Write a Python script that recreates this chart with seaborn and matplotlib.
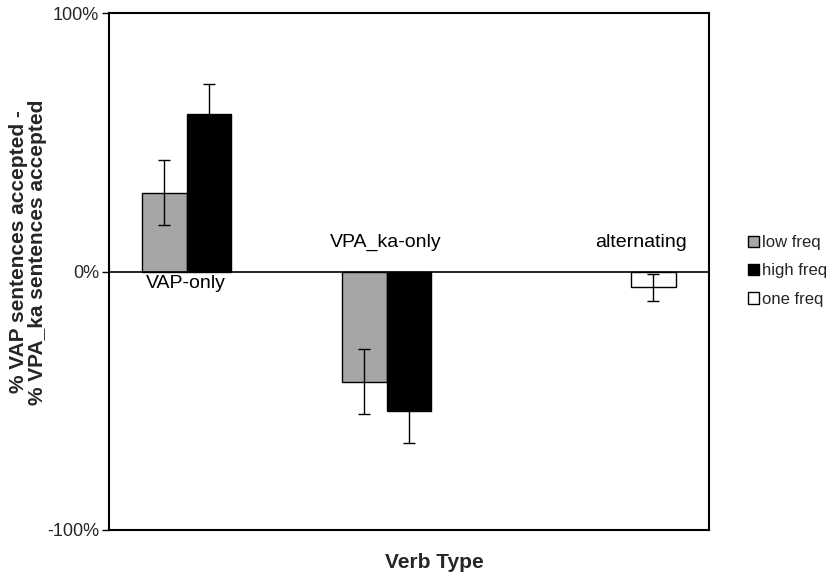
import matplotlib
matplotlib.use("Agg")
import matplotlib.pyplot as plt
import seaborn as sns
import pandas as pd
import numpy as np

verb_types = ["VAP-only", "VPA_ka-only", "alternating"]
freq_levels = ["low freq", "high freq", "one freq"]
row_verb = ["VAP-only", "VAP-only", "VPA_ka-only", "VPA_ka-only", "alternating"]
row_freq = ["low freq", "high freq", "low freq", "high freq", "one freq"]
values = [30.6, 61.2, -42.6, -53.9, -6.0]
errors = [12.6, 11.5, 12.6, 12.6, 5.2]
colors = {"low freq": "#A6A6A6", "high freq": "#000000", "one freq": "#FFFFFF"}
yticks = [-100, 0, 100]
ytick_labels = ["-100%", "0%", "100%"]

df = pd.DataFrame({"verb": row_verb, "freq": row_freq, "value": values, "err": errors})

sns.set_theme(style="white")
plt.rcParams["font.family"] = ["Liberation Sans", "DejaVu Sans"]

fig = plt.figure(figsize=(8.37, 5.76), dpi=100)
ax = fig.add_axes([109 / 837, 1 - 530 / 576, 600 / 837, (530 - 13.3) / 576])

sns.barplot(data=df, x="verb", y="value", hue="freq", order=verb_types,
            hue_order=freq_levels, palette=colors, width=0.6675,
            edgecolor="black", linewidth=1.0, errorbar=None, ax=ax, legend=True)

# error bars from the drawn bars
for patch in ax.patches:
    h = patch.get_height()
    if patch.get_width() == 0 or np.isnan(h):
        continue
    xc = patch.get_x() + patch.get_width() / 2
    idx = int(np.argmin([abs(v - h) for v in values]))
    ax.errorbar(xc, h, yerr=errors[idx], fmt="none", ecolor="black",
                elinewidth=1.0, capsize=4.5, capthick=1.0, zorder=5)

ax.axhline(0, color="black", linewidth=1.2, zorder=4)
ax.set_ylim(-100, 100)
ax.set_xlim(-0.5, 2.5)
ax.set_yticks(yticks)
ax.set_yticklabels(ytick_labels, fontsize=13)
ax.tick_params(axis="y", which="both", left=True, length=5, width=1, color="black", pad=2)
ax.tick_params(axis="x", bottom=False, labelbottom=False)
for s in ax.spines.values():
    s.set_color("black")
    s.set_linewidth(1.5)
    s.set_visible(True)

ax.set_xlabel("Verb Type", fontsize=15, fontweight="bold")
ax.xaxis.set_label_coords((434 - 109) / 600, -(563 - 530) / 516.7)
ax.xaxis.label.set_va("center")
ax.set_ylabel("% VAP sentences accepted -\n% VPA_ka sentences accepted",
              fontsize=15, fontweight="bold", linespacing=1.05)
ax.yaxis.set_label_coords(-(109 - 28) / 600, (530 - 252) / 516.7)
ax.yaxis.label.set_va("center")

# category labels placed near the zero line
label_pos = [(verb_types.index("VAP-only") - 0.115, -4.5, "VAP-only"),
             (verb_types.index("VPA_ka-only") - 0.115, 11.5, "VPA_ka-only"),
             (verb_types.index("alternating") + 0.16, 11.3, "alternating")]
for x, y, t in label_pos:
    ax.text(x, y, t, ha="center", va="center", fontsize=14, color="black")

handles, labels = ax.get_legend_handles_labels()
ax.legend(handles, labels, loc="center left", bbox_to_anchor=(740 / 837, 1 - 271 / 576),
          bbox_transform=fig.transFigure, frameon=False, fontsize=12,
          handlelength=0.65, handleheight=0.65, handletextpad=0.2,
          labelspacing=0.8, borderpad=0)

fig.savefig("out.png", dpi=100)
